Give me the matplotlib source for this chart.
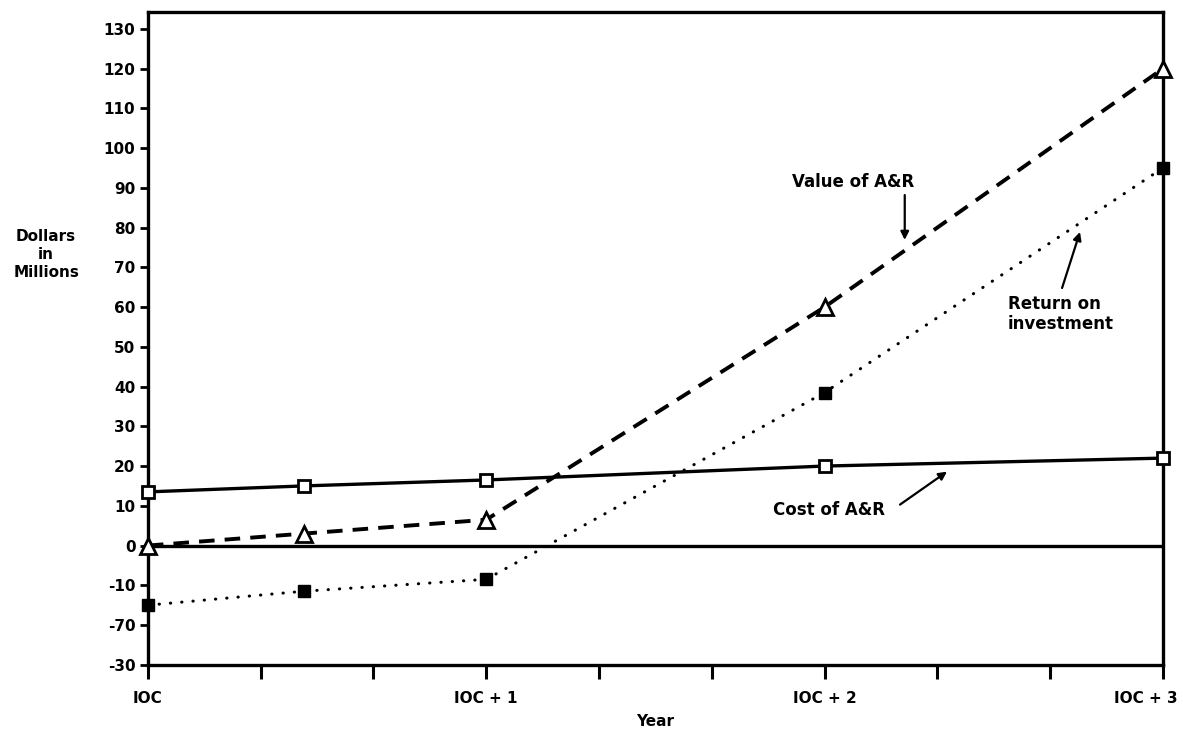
import matplotlib
matplotlib.use("Agg")
import matplotlib.pyplot as plt
from matplotlib.ticker import FixedLocator
from matplotlib.transforms import ScaledTranslation

# Years since initial operating capability (IOC)
years = [0, 0.46, 1, 2, 3]
cost_ar = [13.5, 15, 16.5, 20, 22]
value_ar = [0, 3, 6.5, 60, 120]
roi = [-15, -11.5, -8.5, 38.5, 95]

year_ticks = [0, 1, 2, 3]
year_labels = ["IOC", "IOC + 1", "IOC + 2", "IOC + 3"]
minor_year_ticks = [1 / 3, 2 / 3, 4 / 3, 5 / 3, 7 / 3, 8 / 3]
y_ticks = [130, 120, 110, 100, 90, 80, 70, 60, 50, 40, 30, 20, 10, 0, -10, -20, -30]
y_labels = ["130", "120", "110", "100", "90", "80", "70", "60", "50", "40",
            "30", "20", "10", "0", "-10", "-70", "-30"]

plt.rcParams["font.family"] = ["DejaVu Sans"]
plt.rcParams["font.weight"] = "bold"

fig = plt.figure(figsize=(11.83, 7.37), dpi=100)
ax = fig.add_axes([0.125, 0.098, 0.858, 0.886])

ax.plot(years, cost_ar, color="black", lw=2.4, marker="s", ms=9,
        mfc="white", mec="black", mew=2, zorder=3, clip_on=False)
ax.plot(years, value_ar, color="black", lw=2.8, ls=(0, (4, 2.6)), marker="^",
        ms=11, mfc="white", mec="black", mew=2, zorder=3, clip_on=False)
ax.plot(years, roi, color="black", lw=2.2, ls=(0, (0.1, 3.6)),
        dash_capstyle="round", marker="s", ms=8, mfc="black", mec="black",
        zorder=3, clip_on=False)

ax.axhline(0, color="black", lw=2.4, zorder=2)

ax.set_xlim(0, 3)
ax.set_ylim(-30, 134.3)

ax.xaxis.set_major_locator(FixedLocator(year_ticks))
ax.set_xticklabels(year_labels)
ax.xaxis.set_minor_locator(FixedLocator(minor_year_ticks))
ax.set_yticks(y_ticks)
ax.set_yticklabels(y_labels)

ax.tick_params(axis="x", which="both", direction="out", length=10, width=2.2,
               labelsize=11, pad=9)
ax.tick_params(axis="y", direction="out", length=6, width=2, labelsize=11, pad=3)
for lab in ax.get_xticklabels() + ax.get_yticklabels():
    lab.set_fontweight("bold")

# keep the last year label inside the figure
last = ax.get_xticklabels()[-1]
last.set_horizontalalignment("right")
last.set_transform(last.get_transform() + ScaledTranslation(15 / 100, 0, fig.dpi_scale_trans))

for side in ["left", "right", "top", "bottom"]:
    ax.spines[side].set_linewidth(2.4)

ax.set_xlabel("Year", fontsize=11, fontweight="bold", labelpad=6)
fig.text(0.039, 0.655, "Dollars\nin\nMillions", ha="center", va="center",
         fontsize=11, fontweight="bold", linespacing=1.25)

arrow = dict(arrowstyle="-|>", color="black", lw=1.6, mutation_scale=12,
             shrinkA=0, shrinkB=0)

ax.text(2.085, 91.5, "Value of A&R", ha="center", va="center", fontsize=12,
        fontweight="bold")
ax.annotate("", xy=(2.237, 76.9), xytext=(2.237, 88.2), arrowprops=arrow)

ax.text(2.542, 63, "Return on\ninvestment", ha="left", va="top", fontsize=12,
        fontweight="bold", linespacing=1.15)
ax.annotate("", xy=(2.755, 78.9), xytext=(2.702, 64.8), arrowprops=arrow)

ax.text(2.179, 9.0, "Cost of A&R", ha="right", va="center", fontsize=12,
        fontweight="bold")
ax.annotate("", xy=(2.362, 18.6), xytext=(2.223, 10.3), arrowprops=arrow)

fig.savefig("out.png", dpi=100)
